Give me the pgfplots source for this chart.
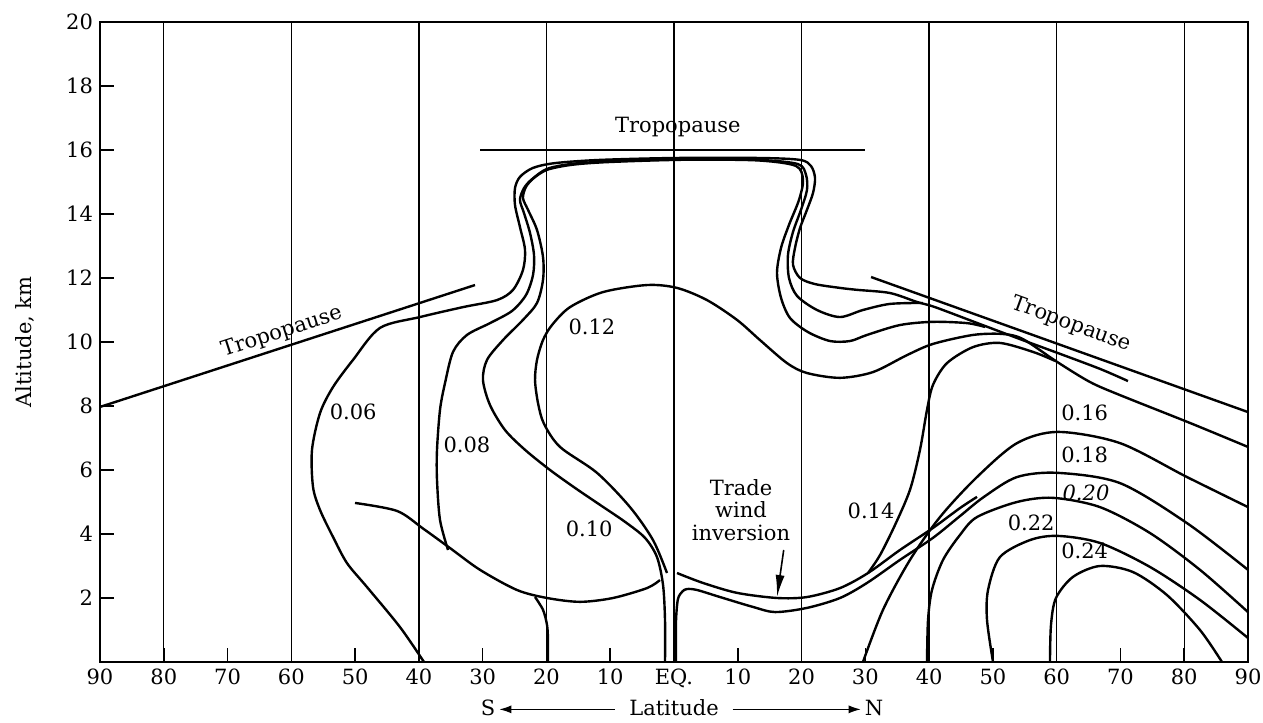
\documentclass[border=0pt]{standalone}
\usepackage{pgfplots}
\pgfplotsset{compat=1.18}
\usepackage{fontspec}
\setmainfont{DejaVu Serif}
\usetikzlibrary{arrows.meta}

\begin{document}
\begin{tikzpicture}[font=\fontsize{10.5pt}{12.5pt}\selectfont]
\begin{axis}[
  name=ax,
  scale only axis,
  width=574pt, height=320pt,
  xmin=-90, xmax=90, ymin=0, ymax=20,
  axis line style={line width=1.1pt},
  xtick={-90,-80,...,90},
  xticklabels={90,80,70,60,50,40,30,20,10,EQ.,10,20,30,40,50,60,70,80,90},
  ytick={2,4,...,20},
  tick align=inside,
  tick pos=left,
  major tick length=7pt,
  tick style={black, line width=0.8pt},
  extra x ticks={-80,-60,-40,-20,0,20,40,60,80},
  extra x tick labels={},
  extra x tick style={grid=major, major tick length=0pt},
  major grid style={black, line width=0.65pt},
  /pgf/number format/assume math mode=true,
  ylabel={Altitude, km},
  ylabel style={at={(axis description cs:-0.065,0.5)}, anchor=center},
  xlabel={S\,\tikz[baseline=-0.6ex]\draw[{Latex[length=6pt,width=4pt]}-,line width=0.6pt](0,0)--(58pt,0);\ \ Latitude\ \ \tikz[baseline=-0.6ex]\draw[-{Latex[length=6pt,width=4pt]},line width=0.6pt](0,0)--(64pt,0);\,N},
  xlabel style={at={(axis description cs:0.507,-0.072)}, anchor=center},
  every axis plot post/.append style={black, solid, mark=none, line width=1.2pt, smooth, tension=0.5},
]

% tropopause segments
\addplot[sharp plot] coordinates {(-90,7.97) (-31.2,11.78)};
\addplot[sharp plot] coordinates {(-30.4,16.0) (29.9,16.0)};
\addplot[sharp plot] coordinates {(30.9,12.03) (90,7.81)};

% 0.06
\addplot coordinates {(-39.20,0) (-42.96,1.09) (-48.13,2.34) (-51.27,3.09) (-53.47,3.91) (-55.50,4.75) (-56.60,5.47) (-56.76,6.63) (-55.50,7.78) (-53.47,8.59) (-50.33,9.44) (-46.10,10.44) (-39.82,10.78) (-33.08,11.09) (-27.75,11.31) (-25.24,11.63) (-23.68,12.25) (-23.36,12.88) (-24.15,13.59) (-24.93,14.28) (-24.93,14.81) (-24.15,15.16) (-22.11,15.44) (-18.66,15.59) (-11.60,15.69) (0.16,15.75) (13.48,15.75) (19.76,15.69) (21.48,15.50) (22.11,15.13) (21.80,14.66) (20.85,14.13) (19.76,13.56) (18.97,12.94) (18.66,12.41) (19.76,12.00) (22.11,11.81) (26.03,11.69) (28.69,11.63) (33.87,11.53) (38.10,11.25) (40.92,11.09) (47.98,10.56) (54.25,10.09) (60.52,9.63) (66.79,9.16) (71.18,8.78)};

% 0.08
\addplot coordinates {(-35.43,3.50) (-36.69,4.44) (-37.16,5.69) (-37.16,6.63) (-36.69,7.88) (-35.90,8.72) (-34.65,9.69) (-32.46,10.22) (-28.85,10.59) (-25.40,10.97) (-23.20,11.47) (-22.11,12.09) (-21.95,12.72) (-22.58,13.41) (-23.52,14.03) (-24.15,14.44) (-23.52,14.81) (-22.26,15.09) (-19.91,15.41) (-16.30,15.56) (-11.60,15.63) (-3.76,15.69) (4.08,15.72) (13.48,15.69) (19.44,15.56) (20.70,15.22) (20.85,14.75) (19.91,14.13) (18.66,13.44) (17.87,12.72) (18.03,12.00) (19.29,11.44) (22.42,11.00) (26.03,10.78) (29.63,11.00) (33.87,11.19) (39.04,11.22)};

% 0.10
\addplot coordinates {(-1.41,0) (-1.41,1.31) (-1.72,2.41) (-2.67,3.28) (-4.55,3.88) (-7.68,4.38) (-11.60,4.91) (-15.52,5.44) (-19.44,6.00) (-23.36,6.63) (-26.50,7.25) (-28.85,8.03) (-29.95,8.81) (-29.32,9.44) (-26.81,10.06) (-23.68,10.69) (-21.48,11.22) (-20.54,11.94) (-20.54,12.66) (-21.48,13.50) (-22.89,14.13) (-23.68,14.50) (-23.20,14.85) (-22.00,15.12) (-19.91,15.38) (-16.30,15.53) (-11.60,15.61) (-3.76,15.67) (4.08,15.70) (13.48,15.67) (19.13,15.50) (20.23,15.06) (19.60,14.44) (18.03,13.66) (16.78,12.94) (16.15,12.16) (16.78,11.38) (18.19,10.75) (21.01,10.31) (24.46,10.03) (27.60,10.03) (30.26,10.22) (35.43,10.53) (40.61,10.63) (45.94,10.59) (48.76,10.47)};

% 0.12
\addplot coordinates {(-1.10,2.78) (-3.29,3.81) (-6.90,4.84) (-12.07,5.91) (-17.87,6.72) (-20.40,7.45) (-21.32,8.09) (-21.79,8.81) (-21.48,9.44) (-20.54,10.06) (-19.13,10.53) (-16.30,11.09) (-11.13,11.56) (-4.23,11.78) (0.47,11.69) (5.17,11.31) (9.88,10.69) (13.48,10.06) (17.72,9.34) (20.85,9.03) (26.03,8.88) (31.20,9.06) (36.53,9.59) (40.61,9.94) (46.88,10.22) (51.58,10.25) (54.72,10.09) (60.05,9.38) (65.22,8.75) (69.93,8.34) (80.90,7.47) (90,6.72)};

% 0.14
\addplot coordinates {(30.42,2.78) (32.30,3.34) (34.65,4.28) (37.00,5.38) (38.57,6.63) (39.67,7.88) (40.61,8.66) (42.80,9.34) (46.88,9.84) (51.11,9.97) (56.29,9.69) (59.74,9.41)};

% lower branch near 2 km, S of equator
\addplot coordinates {(-50.02,4.97) (-43.43,4.72) (-39.35,4.17) (-35.12,3.56) (-30.42,2.88) (-24.62,2.25) (-19.91,2.00) (-14.74,1.88) (-9.56,2.00) (-4.23,2.31) (-2.20,2.56)};
\addplot coordinates {(-21.79,2.03) (-20.54,1.63) (-19.91,1.16) (-19.76,0.69) (-19.76,0)};

% trade wind inversion (upper) and lower branch continuing north
\addplot coordinates {(0.47,2.78) (4.55,2.47) (9.88,2.16) (16.15,2.00) (20.85,2.03) (26.03,2.31) (30.42,2.78) (35.43,3.50) (40.61,4.19) (44.84,4.81) (47.51,5.16)};
\addplot coordinates {(0.30,0) (0.30,1.20) (0.60,1.95) (1.30,2.20) (2.04,2.28) (3.61,2.25) (7.21,2.03) (12.39,1.72) (15.84,1.56) (20.85,1.69) (26.03,2.00) (30.26,2.47) (35.43,3.19) (40.61,3.88) (44.84,4.56) (48.60,5.16) (53.78,5.78) (60.21,5.91) (69.93,5.59) (80.43,4.34) (90,2.88)};

% northern contours
\addplot coordinates {(29.63,0) (32.77,1.63) (37.00,3.19) (41.71,4.53) (47.51,5.78) (53.78,6.84) (60.21,7.19) (69.93,6.84) (80.43,5.78) (90,4.84)};
\addplot coordinates {(39.67,0) (39.83,1.31) (40.45,2.25) (42.18,3.19) (44.84,3.97) (47.51,4.53) (53.78,5.00) (59.42,5.13) (66.79,4.84) (74.63,4.03) (82.47,2.88) (90,1.56)};
\addplot coordinates {(50.02,0) (49.08,1.31) (49.24,2.25) (51.11,3.28) (55.82,3.81) (60.21,3.94) (66.79,3.72) (74.63,2.97) (82.47,1.94) (90,0.75)};
\addplot coordinates {(58.95,0) (59.11,1.16) (59.89,2.00) (62.56,2.66) (66.79,3.00) (71.97,2.81) (77.30,2.09) (82.47,1.00) (85.92,0)};

% labels
\node at (axis cs:0.6,16.72) {Tropopause};
\node[rotate=18] at (axis cs:-61.5,10.31) {Tropopause};
\node[rotate=-20] at (axis cs:62.3,10.55) {Tropopause};
\node at (axis cs:-50.3,7.81) {0.06};
\node at (axis cs:-32.46,6.78) {0.08};
\node at (axis cs:-13.3,4.16) {0.10};
\node at (axis cs:-12.86,10.47) {0.12};
\node at (axis cs:30.9,4.72) {0.14};
\node at (axis cs:64.4,7.78) {0.16};
\node at (axis cs:64.4,6.47) {0.18};
\node at (axis cs:64.6,5.28) {\itshape 0.20};
\node at (axis cs:56.0,4.34) {0.22};
\node at (axis cs:64.4,3.47) {0.24};
\node[align=center, font=\fontsize{10.5pt}{11.3pt}\selectfont] at (axis cs:10.5,4.75) {Trade\\wind\\inversion};
\draw[-{Latex[length=11pt,width=4.5pt]}, line width=0.8pt] (axis cs:17.2,3.5) -- (axis cs:16.15,2.03);
\end{axis}
\pgfresetboundingbox
\path[use as bounding box] ([shift={(-50pt,-30.5pt)}]ax.south west) rectangle ([shift={(7.5pt,11pt)}]ax.north east);
\end{tikzpicture}
\end{document}
